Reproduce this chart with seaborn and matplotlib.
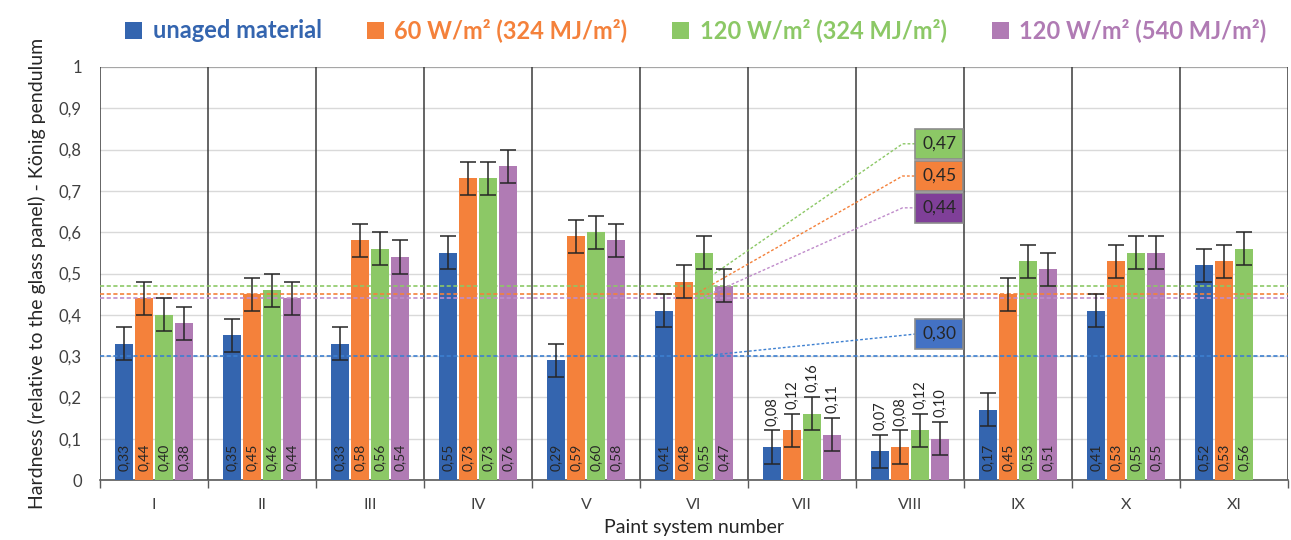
import numpy as np
import pandas as pd
import matplotlib
matplotlib.use("Agg")
import matplotlib.pyplot as plt
from matplotlib.patches import Patch
import seaborn as sns

# ---- data -------------------------------------------------------------
systems = ["I", "II", "III", "IV", "V", "VI", "VII", "VIII", "IX", "X", "XI"]
series = ["unaged material", "60 W/m² (324 MJ/m²)",
          "120 W/m² (324 MJ/m²)", "120 W/m² (540 MJ/m²)"]
unaged = [0.33, 0.35, 0.33, 0.55, 0.29, 0.41, 0.08, 0.07, 0.17, 0.41, 0.52]
w60_324 = [0.44, 0.45, 0.58, 0.73, 0.59, 0.48, 0.12, 0.08, 0.45, 0.53, 0.53]
w120_324 = [0.40, 0.46, 0.56, 0.73, 0.60, 0.55, 0.16, 0.12, 0.53, 0.55, 0.56]
w120_540 = [0.38, 0.44, 0.54, 0.76, 0.58, 0.47, 0.11, 0.10, 0.51, 0.55, None]
error = 0.04
# reference levels (system VI) drawn as dashed lines with callouts
ref_levels = [0.30, 0.45, 0.47, 0.44]

colors = ["#3465AF", "#F4813B", "#8CC866", "#B07BB4"]
line_colors = ["#3C7FD0", "#F4813B", "#8CC866", "#C08CCB"]
box_colors = ["#4472C4", "#F4813B", "#8CC866", "#7F3F98"]

rows = []
for name, vals in zip(series, [unaged, w60_324, w120_324, w120_540]):
    for s, v in zip(systems, vals):
        if v is not None:
            rows.append({"system": s, "series": name, "value": v})
df = pd.DataFrame(rows)

# ---- figure -----------------------------------------------------------
sns.set_theme(style="white")
plt.rcParams["font.family"] = ["Lato", "DejaVu Sans"]
fig = plt.figure(figsize=(12.91, 5.40), dpi=100)
ax = fig.add_axes([0.0775, 0.111, 0.9203, 0.765])

sns.barplot(data=df, x="system", y="value", hue="series", order=systems,
            hue_order=series, palette=colors, width=0.74, gap=0.1,
            errorbar=None, saturation=1, legend=False, ax=ax,
            edgecolor="none", zorder=3)

fmt = lambda v: f"{v:.2f}".replace(".", ",")

for p in ax.patches:
    h = p.get_height()
    if not np.isfinite(h) or h <= 0:
        continue
    xc = p.get_x() + p.get_width() / 2
    ax.errorbar(xc, h, yerr=error, fmt="none", ecolor="#262626",
                elinewidth=1.1, capsize=5.5, capthick=1.1, zorder=5)
    if h < 0.17:
        # short bars: value sits above the error bar
        ax.text(xc, h + error + 0.012, fmt(h), rotation=90, ha="center",
                va="bottom", fontsize=10.5, color="#262626", zorder=6)
    else:
        ax.text(xc, 0.022, fmt(h), rotation=90, ha="center", va="bottom",
                fontsize=10, color="#262626", zorder=6)

# axes styling
ax.set_xlim(-0.5, len(systems) - 0.5)
ax.set_ylim(0, 1)
ax.set_yticks(np.arange(0, 1.01, 0.1))
ax.set_yticklabels(["0"] + [fmt(v)[:3] for v in np.arange(0.1, 0.95, 0.1)] + ["1"])
ax.yaxis.grid(True, color="#D9D9D9", lw=1, zorder=0)
ax.set_axisbelow(True)
for b in np.arange(-0.5, len(systems), 1.0):
    ax.axvline(b, color="#3A3A3A", lw=1.1, zorder=2)
ax.set_xticks(np.arange(-0.5, len(systems), 1.0), minor=True)
ax.tick_params(axis="x", which="minor", length=6, width=1, color="#595959",
               direction="out", bottom=True)
ax.tick_params(axis="x", which="major", length=0, pad=13, labelsize=11.5,
               labelcolor="#404040")
ax.tick_params(axis="y", length=0, pad=13, labelsize=12, labelcolor="#404040")
for side in ["top", "right", "left"]:
    ax.spines[side].set_visible(False)
ax.spines["bottom"].set_color("#595959")
ax.spines["bottom"].set_linewidth(1.2)
ax.axhline(1.0, color="#A6A6A6", lw=1.5, zorder=1)

ax.set_xlabel("Paint system number", fontsize=14, color="#262626", labelpad=5)
ax.set_ylabel("Hardness (relative to the glass panel) - König pendulum",
              fontsize=14, color="#262626", labelpad=9)

# reference lines with callouts
starts = [(5.06, 0.30), (5.01, 0.45), (5.19, 0.50), (5.06, 0.44)]
bends = [None, (6.93, 0.736), (6.93, 0.814), (6.93, 0.659)]
box_pos = [(7.27, 0.354), (7.27, 0.736), (7.27, 0.814), (7.27, 0.659)]
for lvl, lc, bc, st, bd, bp in zip(ref_levels, line_colors, box_colors,
                                   starts, bends, box_pos):
    ax.axhline(lvl, color=lc, lw=1.2, ls=(0, (2.5, 1.5)), zorder=4)
    xs = [st[0]] + ([bd[0]] if bd else []) + [bp[0] - 0.2]
    ys = [st[1]] + ([bd[1]] if bd else []) + [bp[1]]
    ax.plot(xs, ys, color=lc, lw=1, ls=(0, (2, 1.5)), zorder=4)
    ax.text(bp[0], bp[1], fmt(lvl), ha="center", va="center", fontsize=12.5,
            color="#262626", zorder=7,
            bbox=dict(boxstyle="square,pad=0.4", fc=bc, ec="#8C8C8C", lw=1.2))

# legend with coloured labels
handles = [Patch(facecolor=c, edgecolor="none") for c in colors]
fig.legend(handles, series, loc="upper center", bbox_to_anchor=(0.539, 1.005),
           ncol=4, frameon=False, handlelength=0.72, handleheight=0.72,
           handletextpad=0.45, columnspacing=1.9, labelcolor=colors,
           prop={"weight": "bold", "size": 17})

fig.savefig("out.png", dpi=100)
